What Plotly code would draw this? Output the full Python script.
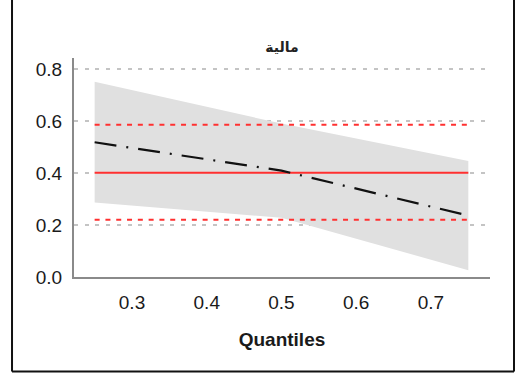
import plotly.graph_objects as go

# Quantile regression estimates
quantiles = [0.25, 0.5, 0.75]
coef = [0.518, 0.409, 0.236]
ci_lower = [0.286, 0.228, 0.026]
ci_upper = [0.751, 0.590, 0.446]

# OLS estimate and its confidence bounds
ols_coef = 0.401
ols_lower = 0.220
ols_upper = 0.585

title_text = "مالية"
x_title = "Quantiles"
x_ticks = [0.3, 0.4, 0.5, 0.6, 0.7]
y_ticks = [0.0, 0.2, 0.4, 0.6, 0.8]

x_span = [quantiles[0], quantiles[-1]]

fig = go.Figure()

fig.add_trace(go.Scatter(x=quantiles, y=ci_upper, mode="lines",
                         line=dict(width=0, color="#e0e0e0"), showlegend=False,
                         hoverinfo="skip"))
fig.add_trace(go.Scatter(x=quantiles, y=ci_lower, mode="lines", fill="tonexty",
                         fillcolor="#e0e0e0", line=dict(width=0, color="#e0e0e0"),
                         showlegend=False, hoverinfo="skip"))

for val, dash in [(ols_upper, "5px,5.8px"), (ols_lower, "5px,5.8px"), (ols_coef, "solid")]:
    fig.add_trace(go.Scatter(x=x_span, y=[val, val], mode="lines",
                             line=dict(color="#ff3030", width=2, dash=dash),
                             showlegend=False))

fig.add_trace(go.Scatter(x=quantiles, y=coef, mode="lines",
                         line=dict(color="#111111", width=2.2, dash="22px,10px,2px,10px"),
                         showlegend=False))

# frame around the figure
frame = dict(type="line", xref="paper", yref="paper",
             line=dict(color="#111111", width=2))
fig.add_shape(**frame, x0=-0.149, x1=-0.149, y0=-0.4315, y1=1.27)
fig.add_shape(**frame, x0=1.0577, x1=1.0577, y0=-0.4315, y1=1.27)
fig.add_shape(**frame, x0=-0.149, x1=1.0577, y0=-0.4315, y1=-0.4315)

fig.update_layout(
    width=523, height=374,
    margin=dict(l=74, r=33, t=58, b=97),
    paper_bgcolor="white", plot_bgcolor="white",
    font=dict(family="Liberation Sans, Arial, sans-serif", color="#1a1a1a"),
    title=dict(text="<b>" + title_text + "</b>", x=0.5, xref="paper", xanchor="center",
               y=1 - 47 / 374, yref="container", yanchor="middle",
               font=dict(family="DejaVu Sans", size=14, color="#222222")),
    xaxis=dict(range=[0.2224, 0.779], tickvals=x_ticks,
               ticktext=[f"{v:.1f}" for v in x_ticks],
               showgrid=False, zeroline=False, showline=True,
               linecolor="#8a8a8a", linewidth=2, ticks="",
               ticklabelstandoff=7,
               tickfont=dict(size=19, color="#1a1a1a"),
               title=dict(text="<b>" + x_title + "</b>", standoff=21,
                          font=dict(size=19, color="#1a1a1a"))),
    yaxis=dict(range=[0, 0.842], tickvals=y_ticks,
               ticktext=[f"{v:.1f}" for v in y_ticks],
               showgrid=True, gridcolor="#c4c4c4", gridwidth=2, griddash="4px,6.7px",
               zeroline=False, showline=True, linecolor="#8a8a8a", linewidth=2,
               ticks="", ticklabelstandoff=6,
               tickfont=dict(size=19, color="#1a1a1a")),
)

fig.write_html("out.html")
